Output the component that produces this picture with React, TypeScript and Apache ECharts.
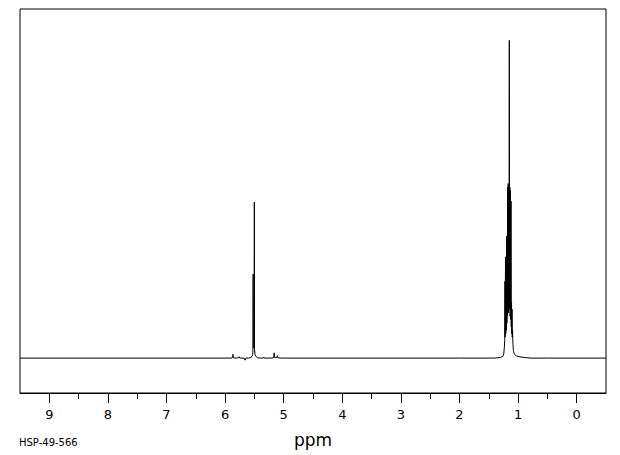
import React, { useEffect, useRef } from "react";
import * as echarts from "echarts";

// [ppm, intensity] points (baseline = 0)
const leftBaseline: number[][] = [
  [9.5, 0],
  [6.0, 0],
];

const olefinicRegion: number[][] = [
  [5.9, 0], [5.87, 0.2], [5.865, 1.1], [5.86, 0.1], [5.83, 0],
  [5.77, 0.1], [5.76, 0.4], [5.75, 0], [5.675, 0], [5.66, -0.6],
  [5.645, 0], [5.6, 0], [5.56, 0.2], [5.54, 0.5], [5.53, 1.0],
  [5.525, 2], [5.521, 24.1], [5.518, 3], [5.51, 3], [5.504, 3],
  [5.501, 44.7], [5.498, 2.5], [5.49, 1.1], [5.47, 0.4], [5.45, 0.1],
  [5.4, 0], [5.35, 0], [5.34, 0.3], [5.33, 0], [5.2, 0], [5.17, 0.2],
  [5.163, 1.5], [5.157, 0.2], [5.12, 0.1], [5.105, 0.7], [5.1, 0.1],
  [5.05, 0],
];

const middleBaseline: number[][] = [
  [4.5, 0],
  [2.0, 0],
  [1.5, 0],
];

const methylRegion: number[][] = [
  [1.4, 0], [1.3, 0.2], [1.26, 0.5], [1.245, 1.2], [1.235, 3],
  [1.228, 5], [1.224, 22], [1.221, 6], [1.215, 29], [1.211, 7],
  [1.206, 27], [1.2, 8], [1.195, 35], [1.191, 10], [1.186, 30],
  [1.182, 12], [1.178, 49], [1.174, 13], [1.169, 50], [1.164, 13],
  [1.159, 49], [1.155, 14], [1.15, 91], [1.146, 14], [1.141, 49],
  [1.136, 12], [1.131, 48], [1.126, 11], [1.121, 45], [1.117, 9],
  [1.112, 16], [1.108, 7], [1.104, 14], [1.1, 6], [1.095, 8],
  [1.088, 4], [1.08, 2.2], [1.065, 1.2], [1.03, 0.6], [0.95, 0.3],
  [0.85, 0.1], [0.78, 0],
];

const rightBaseline: number[][] = [
  [0.5, 0],
  [-0.5, 0],
];

const majorTicks = [0, 1, 2, 3, 4, 5, 6, 7, 8, 9];
const minorTicks = [0.5, 1.5, 2.5, 3.5, 4.5, 5.5, 6.5, 7.5, 8.5];

const xMin = -0.5;
const xMax = 9.5;
const yMin = -10;
const yMax = 100;

const axisTitle = "ppm";
const sampleId = "HSP-49-566";

export default function App() {
  const ref = useRef<HTMLDivElement>(null);

  useEffect(() => {
    if (!ref.current) return;
    const chart = echarts.init(ref.current, undefined, { renderer: "svg" });
    const data = [
      ...leftBaseline,
      ...olefinicRegion,
      ...middleBaseline,
      ...methylRegion,
      ...rightBaseline,
    ];
    const font = "DejaVu Sans";
    chart.setOption({
      animation: false,
      backgroundColor: "#fff",
      grid: {
        left: 20,
        right: 14,
        top: 9,
        bottom: 62,
        show: true,
        borderColor: "#000",
        borderWidth: 1,
        backgroundColor: "transparent",
        containLabel: false,
      },
      xAxis: [
        {
          type: "value",
          min: xMin,
          max: xMax,
          inverse: true,
          position: "bottom",
          axisLine: { show: true, onZero: false, lineStyle: { color: "#000", width: 1 } },
          axisTick: {
            show: true,
            length: 10,
            customValues: majorTicks,
            lineStyle: { color: "#000", width: 1 },
          },
          axisLabel: {
            show: true,
            customValues: majorTicks,
            margin: 15,
            color: "#000",
            fontSize: 13,
            fontFamily: font,
          },
          splitLine: { show: false },
          name: axisTitle,
          nameLocation: "middle",
          nameGap: 38,
          nameTextStyle: { color: "#000", fontSize: 17, fontFamily: font },
        },
        {
          type: "value",
          min: xMin,
          max: xMax,
          inverse: true,
          position: "bottom",
          axisLine: { show: false, onZero: false },
          axisTick: {
            show: true,
            length: 6,
            customValues: minorTicks,
            lineStyle: { color: "#000", width: 1 },
          },
          axisLabel: { show: false },
          splitLine: { show: false },
        },
      ],
      yAxis: {
        type: "value",
        min: yMin,
        max: yMax,
        show: false,
        splitLine: { show: false },
      },
      series: [
        {
          type: "line",
          data,
          xAxisIndex: 0,
          showSymbol: false,
          symbol: "none",
          smooth: false,
          lineStyle: { color: "#000", width: 1 },
          silent: true,
        },
      ],
      graphic: [
        {
          type: "text",
          left: 19,
          top: 437,
          style: {
            text: sampleId,
            fill: "#000",
            fontSize: 10,
            fontFamily: font,
          },
        },
      ],
    });
    return () => chart.dispose();
  }, []);

  return (
    <div
      ref={ref}
      style={{ position: "fixed", left: 0, top: 0, width: 620, height: 455 }}
    />
  );
}
